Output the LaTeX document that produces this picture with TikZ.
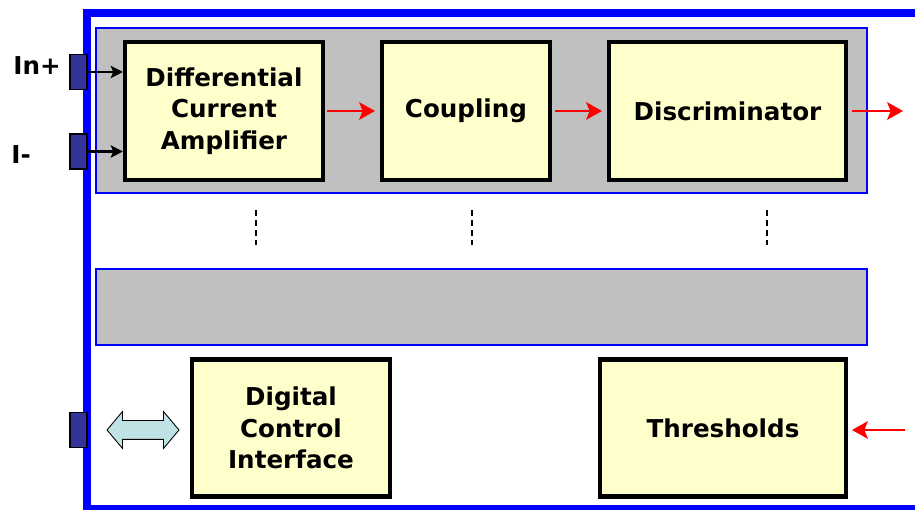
\documentclass[tikz,border=0pt]{standalone}
\usepackage{fontspec}
\setmainfont{DejaVu Sans}
\usetikzlibrary{arrows.meta, positioning, shapes.arrows}
\definecolor{frameBlue}{HTML}{0000FF}
\definecolor{bandGray}{HTML}{C0C0C0}
\definecolor{boxYellow}{HTML}{FFFFCC}
\definecolor{pinBlue}{HTML}{333399}
\definecolor{busCyan}{HTML}{BFE2E4}
\definecolor{sigRed}{HTML}{FF0000}

\begin{document}
\begin{tikzpicture}[
    block/.style={rectangle, draw=black, line width=2.3pt, fill=boxYellow,
                  minimum height=2.76cm, align=center, inner sep=0pt,
                  font=\bfseries\fontsize{14}{18}\selectfont},
    band/.style={draw=frameBlue, line width=0.6pt, fill=bandGray},
    pin/.style={rectangle, draw=black, line width=0.8pt, fill=pinBlue,
                minimum width=0.34cm, minimum height=0.70cm, inner sep=0pt},
    lbl/.style={font=\bfseries\fontsize{14}{18}\selectfont, inner sep=0pt},
    inarrow/.style={-{Stealth[length=7pt, width=7pt, inset=1.5pt]}, line width=1.2pt},
    sig/.style={-{Stealth[length=9pt, width=10pt, inset=2pt]}, line width=1.5pt, sigRed},
    bus/.style={double arrow, draw=black, line width=0.5pt, fill=busCyan,
                minimum height=1.44cm, inner xsep=0pt, inner ysep=0.18cm,
                double arrow head extend=0.18cm, double arrow tip angle=100},
  ]
    \useasboundingbox (0,0) rectangle (18.3,10.2);

    % ─── Chip outline and channel bands ───
    \draw[frameBlue, line width=4pt] (1.74,0.02) rectangle (18.8,9.94);
    \draw[band] (1.92,9.64) rectangle (17.34,6.34);
    \draw[band] (1.92,4.82) rectangle (17.34,3.30);

    % ─── Channel chain ───
    \node[block, minimum width=3.96cm] (dca) at (4.48,7.98)
      {Differential\\Current\\Amplifier};
    \node[block, minimum width=3.36cm] (coupling) at (9.32,7.98) {Coupling};
    \node[block, minimum width=4.74cm] (discr) at (14.55,7.98) {Discriminator};

    \draw[sig, shorten <=0.04cm, shorten >=0.1cm] (dca.east) -- (coupling.west);
    \draw[sig, shorten <=0.06cm, shorten >=0.1cm] (coupling.east) -- (discr.west);
    \coordinate (out) at (18.06,7.98);
    \draw[sig, shorten <=0.08cm] (discr.east) -- (out);

    % Input pads
    \node[pin] (pinp) at (1.57,8.76) {};
    \node[pin] (pinm) at (1.57,7.17) {};
    \node[lbl] (inp) at (0.74,8.88) {In+};
    \node[lbl, anchor=west] (inm) at (0.22,7.10) {I-};
    \draw[inarrow] (pinp.east) -- (pinp.east -| dca.west);
    \draw[inarrow] (pinm.east) -- (pinm.east -| dca.west);

    % More channels
    \foreach \x in {5.12, 9.44, 15.34}{
      \draw[line width=1.1pt, dash pattern=on 3.2pt off 2.4pt] (\x,5.99) -- (\x,5.30);
    }

    % ─── Control part ───
    \node[block, minimum width=3.96cm, minimum height=2.74cm] (dci) at (5.82,1.64)
      {Digital\\Control\\Interface};
    \node[block, minimum width=4.92cm, minimum height=2.74cm] (thresh) at (14.46,1.64)
      {Thresholds};

    \node[pin] (pinio) at (1.57,1.60) {};
    \node[bus] (bus) at (2.86,1.60) {};

    \coordinate (thrin) at (18.1,1.60);
    \draw[sig, shorten >=0.08cm] (thrin) -- (thrin -| thresh.east);
\end{tikzpicture}
\end{document}
